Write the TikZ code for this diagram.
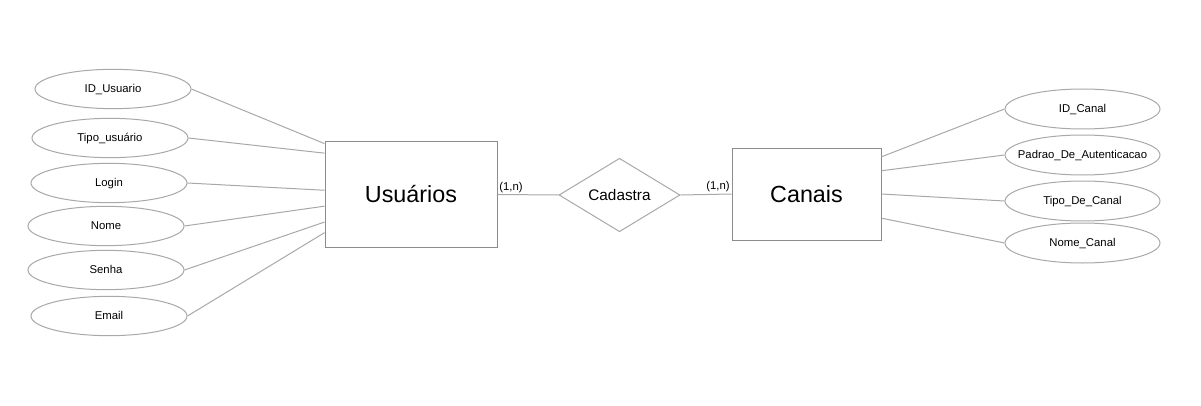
\documentclass[tikz,border=0pt]{standalone}
\usepackage{fontspec}
\setmainfont{Liberation Sans}
\usetikzlibrary{shapes.geometric,calc}

\definecolor{bordas}{HTML}{8C8C8C}
\definecolor{linhas}{HTML}{A8A8A8}

\tikzset{
entidade/.style={draw=bordas, line width=0.75pt, rectangle, inner sep=0pt, font=\fontsize{17.5}{20}\selectfont},
atributo/.style={draw=linhas, line width=0.75pt, ellipse, minimum width=117pt, minimum height=29.5pt, inner sep=0pt, text height=1.6ex, text depth=0.5ex, font=\fontsize{8.5}{10}\selectfont},
relacao/.style={draw=linhas, line width=0.75pt, diamond, minimum width=90.75pt, minimum height=52.5pt, inner sep=0pt, font=\fontsize{11.5}{13}\selectfont},
ligacao/.style={draw=linhas, line width=0.75pt},
card/.style={inner sep=1pt, font=\fontsize{8.5}{10}\selectfont}
}

\begin{document}
\begin{tikzpicture}[x=0.75pt,y=-0.75pt]

\useasboundingbox (0,0) rectangle (1201,406);

% Entidades
\node[entidade, minimum width=129pt, minimum height=78.75pt]
(usuarios) at (411,194.5)
{Usuários};

\node[entidade, minimum width=111.75pt, minimum height=69pt]
(canais) at (806.5,194)
{Canais};

% Relacionamento
\node[relacao]
(cadastra) at (619.5,195)
{Cadastra};

\draw[ligacao]
(usuarios.east) node[card, above right] {(1,n)}
--
(cadastra.west);

\draw[ligacao]
(cadastra.east)
--
(canais.west) node[card, above left] {(1,n)};

% Atributos de Usuários
\node[atributo] (idusuario) at (113,89) {ID\_Usuario};
\node[atributo] (tipousuario) at (110,138) {Tipo\_usuário};
\node[atributo] (login) at (109,183) {Login};
\node[atributo] (nome) at (106,226) {Nome};
\node[atributo] (senha) at (106,270) {Senha};
\node[atributo] (email) at (109,316) {Email};

\draw[ligacao] (idusuario.east) -- ($(usuarios.north west)!0.02!(usuarios.south west)$);
\draw[ligacao] (tipousuario.east) -- ($(usuarios.north west)!0.11!(usuarios.south west)$);
\draw[ligacao] (login.east) -- ($(usuarios.north west)!0.46!(usuarios.south west)$);
\draw[ligacao] (nome.east) -- ($(usuarios.north west)!0.61!(usuarios.south west)$);
\draw[ligacao] (senha.east) -- ($(usuarios.north west)!0.76!(usuarios.south west)$);
\draw[ligacao] (email.east) -- ($(usuarios.north west)!0.86!(usuarios.south west)$);

% Atributos de Canais
\node[atributo, minimum width=116.25pt, minimum height=30pt] (idcanal) at (1082.5,109) {ID\_Canal};
\node[atributo, minimum width=116.25pt, minimum height=30pt, inner xsep=-8pt] (padrao) at (1082.5,155) {Padrao\_De\_Autenticacao};
\node[atributo, minimum width=116.25pt, minimum height=30pt] (tipocanal) at (1082.5,201) {Tipo\_De\_Canal};
\node[atributo, minimum width=116.25pt, minimum height=30pt] (nomecanal) at (1082.5,243) {Nome\_Canal};

\draw[ligacao] ($(canais.north east)!0.10!(canais.south east)$) -- (idcanal.west);
\draw[ligacao] ($(canais.north east)!0.25!(canais.south east)$) -- (padrao.west);
\draw[ligacao] ($(canais.north east)!0.50!(canais.south east)$) -- (tipocanal.west);
\draw[ligacao] ($(canais.north east)!0.76!(canais.south east)$) -- (nomecanal.west);

\end{tikzpicture}
\end{document}
